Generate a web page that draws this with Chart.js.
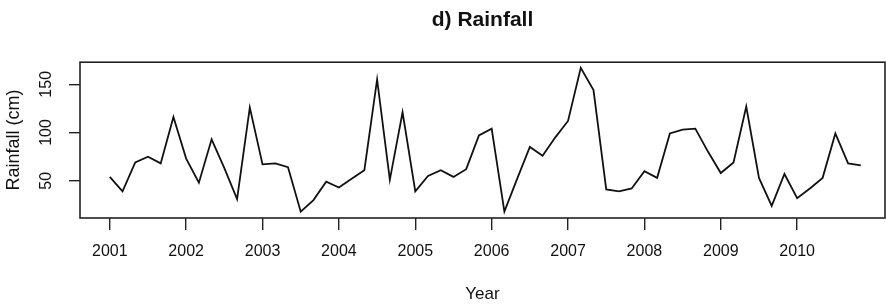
<!DOCTYPE html>
<html>
<head>
<meta charset="utf-8">
<script src="https://cdn.jsdelivr.net/npm/chart.js@4.4.1/dist/chart.umd.min.js"></script>
<style>
  html, body { margin: 0; padding: 0; background: #ffffff; }
  canvas { display: block; }
</style>
</head>
<body>
<canvas id="c" width="886" height="308"></canvas>
<script>
// ---- Data (bimonthly rainfall, cm; series starts 2001, 6 periods per year) ----
const startYear = 2001;
const periodsPerYear = 6;
const rainfall = [
  54, 39, 69, 75, 68, 116, 73, 48, 93, 63, 31, 126,
  67, 68, 64, 18, 30, 49, 43, 52, 61, 155, 51, 121,
  39, 55, 61, 54, 62, 97, 104, 18, 52, 85, 76, 95,
  112, 167, 144, 41, 39, 42, 60, 53, 99, 103, 104, 80,
  58, 69, 127, 53, 24, 57, 32, 42, 53, 99, 68, 66
];
const yearTicks = [2001, 2002, 2003, 2004, 2005, 2006, 2007, 2008, 2009, 2010];
const rainTicks = [50, 100, 150];
const titleText = 'd) Rainfall';
const xTitle = 'Year';
const yTitle = 'Rainfall (cm)';

const points = rainfall.map((v, i) => ({ x: startYear + i / periodsPerYear, y: v }));

const FONT = '"Liberation Sans", Arial, Helvetica, sans-serif';

const boxPlugin = {
  id: 'box',
  afterDraw(chart) {
    const { ctx, chartArea: a } = chart;
    ctx.save();
    ctx.strokeStyle = '#222';
    ctx.lineWidth = 1.6;
    ctx.strokeRect(a.left, a.top, a.right - a.left, a.bottom - a.top);
    ctx.restore();
  }
};

new Chart(document.getElementById('c'), {
  type: 'line',
  data: {
    datasets: [{
      data: points,
      borderColor: '#111',
      borderWidth: 1.8,
      pointRadius: 0,
      tension: 0,
      fill: false
    }]
  },
  options: {
    responsive: false,
    animation: false,
    devicePixelRatio: 1,
    layout: { padding: { left: 0, right: 1, top: 0, bottom: 0 } },
    plugins: {
      legend: { display: false },
      tooltip: { enabled: false },
      title: {
        display: true,
        text: titleText,
        fullSize: false,
        color: '#111',
        font: { family: FONT, size: 21, weight: 'bold' },
        padding: { top: 8, bottom: 29 }
      }
    },
    scales: {
      x: {
        type: 'linear',
        min: 2000.61,
        max: 2011.15,
        afterBuildTicks(scale) { scale.ticks = yearTicks.map(v => ({ value: v })); },
        afterFit(scale) { scale.height = 90; },
        border: { display: false },
        grid: { drawOnChartArea: false, drawTicks: true, tickLength: 12, color: '#222', lineWidth: 1.4 },
        ticks: {
          color: '#111',
          font: { family: FONT, size: 16 },
          padding: 12,
          maxRotation: 0,
          minRotation: 0,
          autoSkip: false,
          callback: v => String(v)
        },
        title: {
          display: true,
          text: xTitle,
          color: '#111',
          font: { family: FONT, size: 17 },
          padding: { top: 0, bottom: 3 }
        }
      },
      y: {
        type: 'linear',
        min: 11.4,
        max: 172.9,
        afterBuildTicks(scale) { scale.ticks = rainTicks.map(v => ({ value: v })); },
        afterFit(scale) { scale.width = 80; },
        border: { display: false },
        grid: { drawOnChartArea: false, drawTicks: true, tickLength: 11, color: '#222', lineWidth: 1.4 },
        ticks: {
          color: '#111',
          font: { family: FONT, size: 16 },
          padding: 9,
          minRotation: 90,
          maxRotation: 90,
          crossAlign: 'center',
          autoSkip: false,
          callback: v => String(v)
        },
        title: {
          display: true,
          text: yTitle,
          color: '#111',
          font: { family: FONT, size: 18 },
          padding: { top: 3, bottom: 0 }
        }
      }
    }
  },
  plugins: [boxPlugin]
});
</script>
</body>
</html>
